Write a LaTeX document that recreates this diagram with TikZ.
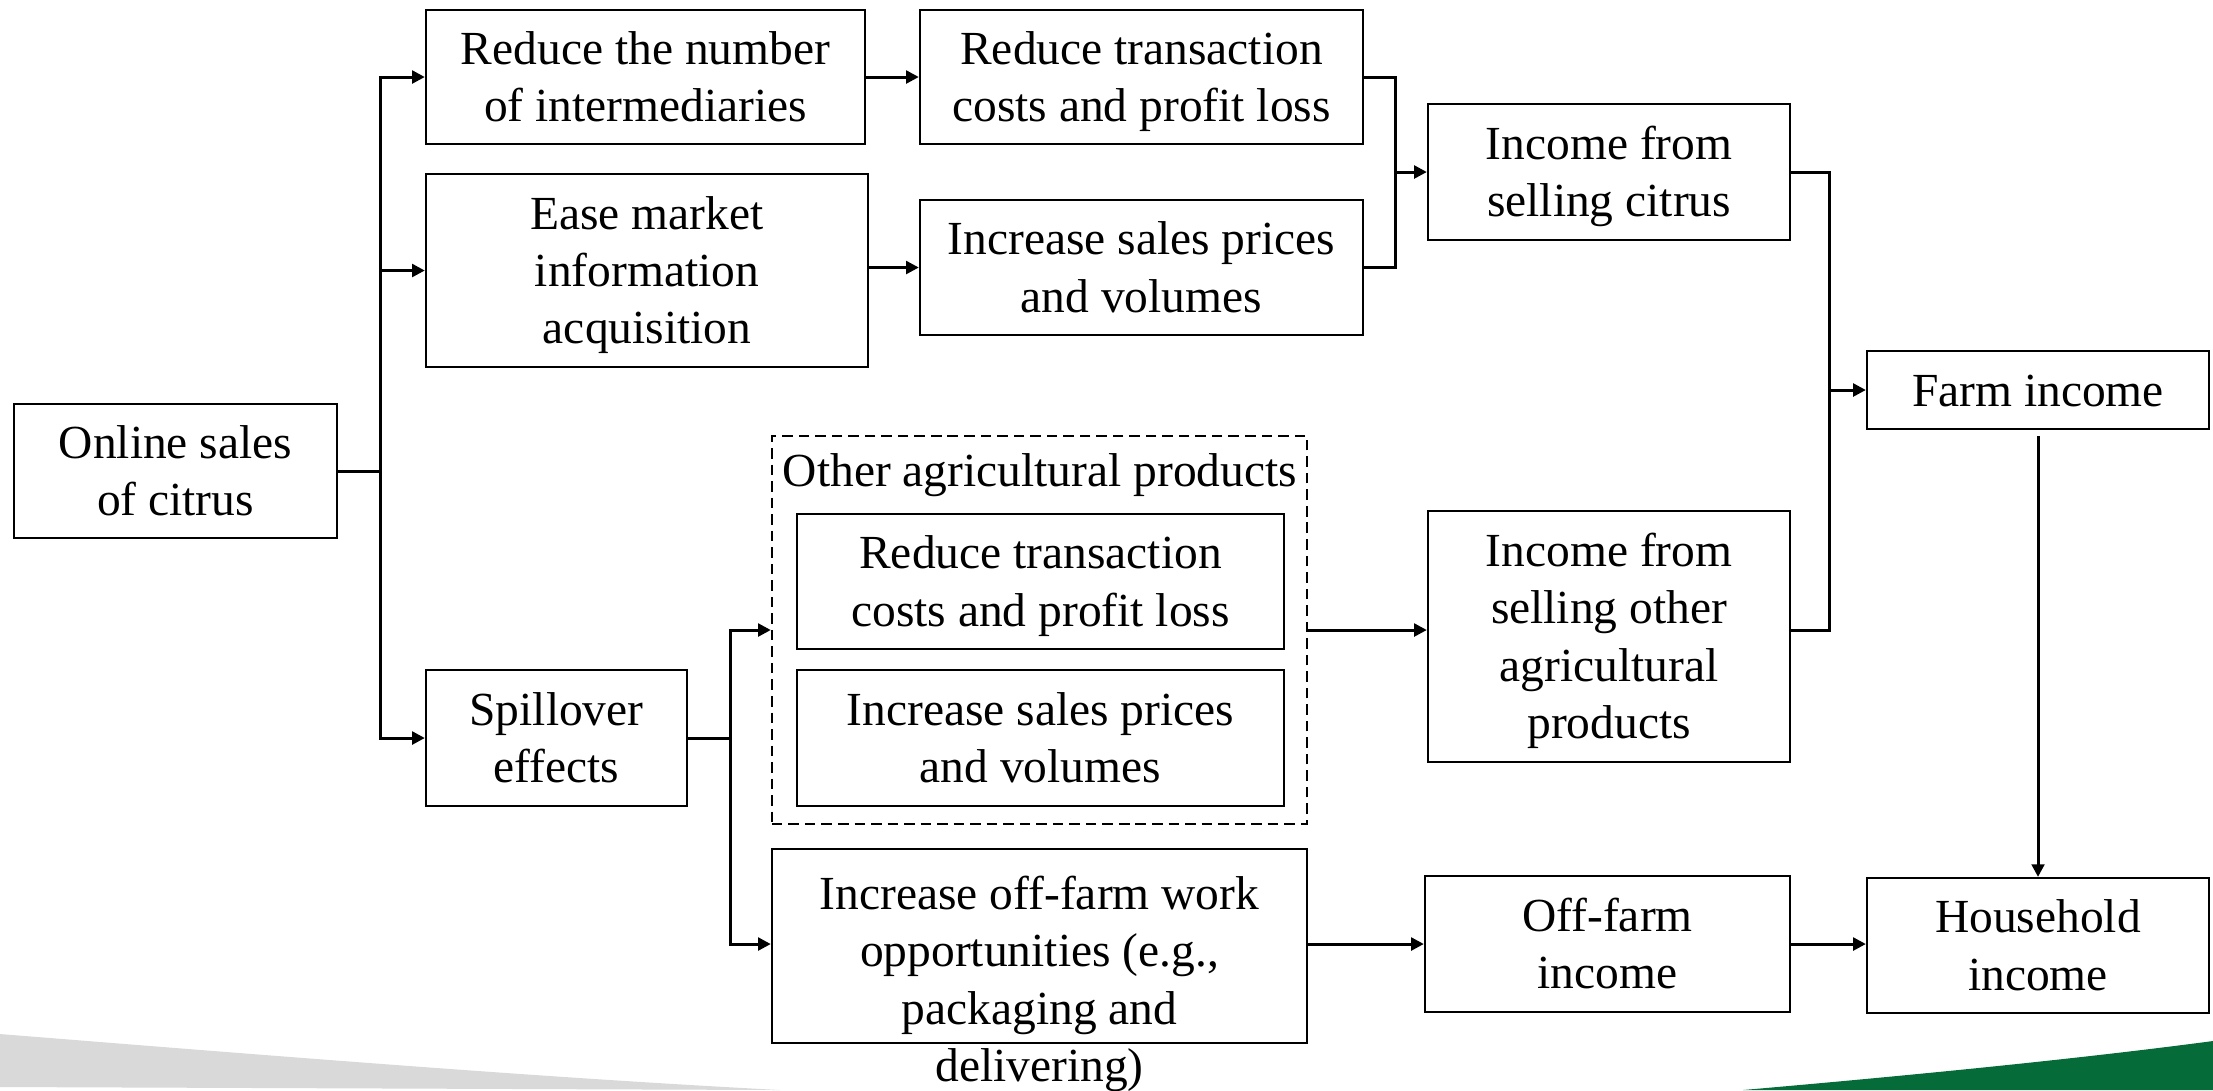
\documentclass[tikz,border=0pt]{standalone}
\usepackage{fontspec}
\setmainfont{Liberation Serif}
\usetikzlibrary{arrows.meta}

\definecolor{swooshgrey}{RGB}{217,217,217}
\definecolor{swooshgreen}{RGB}{5,107,56}

% fixed line extent, so every box centres its text the same way
\newcommand{\boxstrut}{\vrule width0pt height12pt depth2.9pt}

\tikzset{
  box/.style={draw, line width=0.6pt, rectangle, align=center, inner sep=0pt,
    font=\fontsize{13.5}{16.3}\selectfont},
  caption/.style={align=center, inner sep=0pt, font=\fontsize{13.5}{16.3}\selectfont},
  link/.style={line width=0.85pt}
}

\begin{document}
\begin{tikzpicture}[x=0.01cm, y=-0.01cm, >={Triangle[length=3.6pt,width=3.6pt]}]
            \useasboundingbox (0,0) rectangle (2213,1090);

            % Slide swooshes
            \fill[swooshgrey] (0,1034) .. controls (300,1058) and (550,1078) .. (780,1090) -- (0,1087) -- cycle;
            \fill[swooshgreen] (1743,1090) .. controls (1950,1072) and (2100,1056) .. (2213,1041) -- (2213,1090) -- cycle;

            % Citrus channel
            \node[box, minimum width=3.23cm, minimum height=1.34cm] (online) at (175.5,471) {\boxstrut Online sales\\of citrus\boxstrut};
            \node[box, minimum width=4.39cm, minimum height=1.34cm] (reducenum) at (645.5,77) {\boxstrut Reduce the number\\of intermediaries\boxstrut};
            \node[box, minimum width=4.43cm, minimum height=1.34cm] (reducecost) at (1141.5,77) {\boxstrut Reduce transaction\\costs and profit loss\boxstrut};
            \node[box, minimum width=4.42cm, minimum height=1.93cm] (ease) at (647,270.5) {\boxstrut Ease market\\information\\acquisition\boxstrut};
            \node[box, minimum width=4.43cm, minimum height=1.35cm] (increase) at (1141.5,267.5) {\boxstrut Increase sales prices\\and volumes\boxstrut};
            \node[box, minimum width=3.62cm, minimum height=1.36cm] (citrus) at (1609,172) {\boxstrut Income from\\selling citrus\boxstrut};
            \node[box, minimum width=3.42cm, minimum height=0.78cm] (farm) at (2038,390) {\boxstrut Farm income};

            % Spillover side
            \node[box, minimum width=2.61cm, minimum height=1.36cm] (spill) at (556.5,738) {\boxstrut Spillover\\effects\boxstrut};
            \node[draw, dashed, dash pattern=on 3pt off 1.7pt, line width=0.6pt, minimum width=5.35cm, minimum height=3.88cm] (other) at (1039.5,630) {};
            \node[caption] (otherlbl) at (1040,475) {Other agricultural products};
            \node[box, minimum width=4.87cm, minimum height=1.35cm] (othercost) at (1040.5,581.5) {\boxstrut Reduce transaction\\costs and profit loss\boxstrut};
            \node[box, minimum width=4.87cm, minimum height=1.36cm] (otherprice) at (1040.5,738) {\boxstrut Increase sales prices\\and volumes\boxstrut};
            \node[box, minimum width=3.62cm, minimum height=2.51cm] (otherinc) at (1609,636.5) {\boxstrut Income from\\selling other\\agricultural\\products\boxstrut};
            \node[box, minimum width=5.35cm, minimum height=1.94cm] (work) at (1039.5,946) {};
            \node[caption] (worktxt) at (1039.5,984) {Increase off-farm work\\opportunities (e.g.,\\packaging and\\delivering)};
            \node[box, minimum width=3.65cm, minimum height=1.36cm] (offfarm) at (1607.5,944) {\boxstrut Off-farm\\income\boxstrut};
            \node[box, minimum width=3.42cm, minimum height=1.35cm] (household) at (2038,945.5) {\boxstrut Household\\income\boxstrut};

            % Joints
            \coordinate (onlinesplit) at (380,471);
            \coordinate (citrusjoin) at (1395,172);
            \coordinate (farmjoin) at (1829,390);
            \coordinate (spillsplit) at (730,738);

            % Links
            \draw[link] (online.east) -- (onlinesplit);
            \draw[link,->] (onlinesplit) |- (reducenum.west);
            \draw[link,->] (onlinesplit) |- (ease.west);
            \draw[link,->] (onlinesplit) |- (spill.west);
            \draw[link,->] (reducenum) -- (reducecost);
            \draw[link,->] (ease.east |- increase.west) -- (increase.west);
            \draw[link] (reducecost.east) -| (citrusjoin);
            \draw[link] (increase.east) -| (citrusjoin);
            \draw[link,->] (citrusjoin) -- (citrus.west);
            \draw[link] (citrus.east) -| (farmjoin);
            \draw[link] (otherinc.east |- other.east) -| (farmjoin);
            \draw[link,->] (farmjoin) -- (farm.west);
            \draw[link] (spill.east) -- (spillsplit);
            \draw[link,->] (spillsplit) |- (other.west);
            \draw[link,->] (spillsplit) |- (work.west |- offfarm.west);
            \draw[link,->] (other.east) -- (other.east -| otherinc.west);
            \draw[link,->] (work.east |- offfarm.west) -- (offfarm.west);
            \draw[link,->] (offfarm.east) -- (offfarm.east -| household.west);
            \draw[link,->,shorten <=0.06cm] (farm) -- (household);

\end{tikzpicture}
\end{document}
